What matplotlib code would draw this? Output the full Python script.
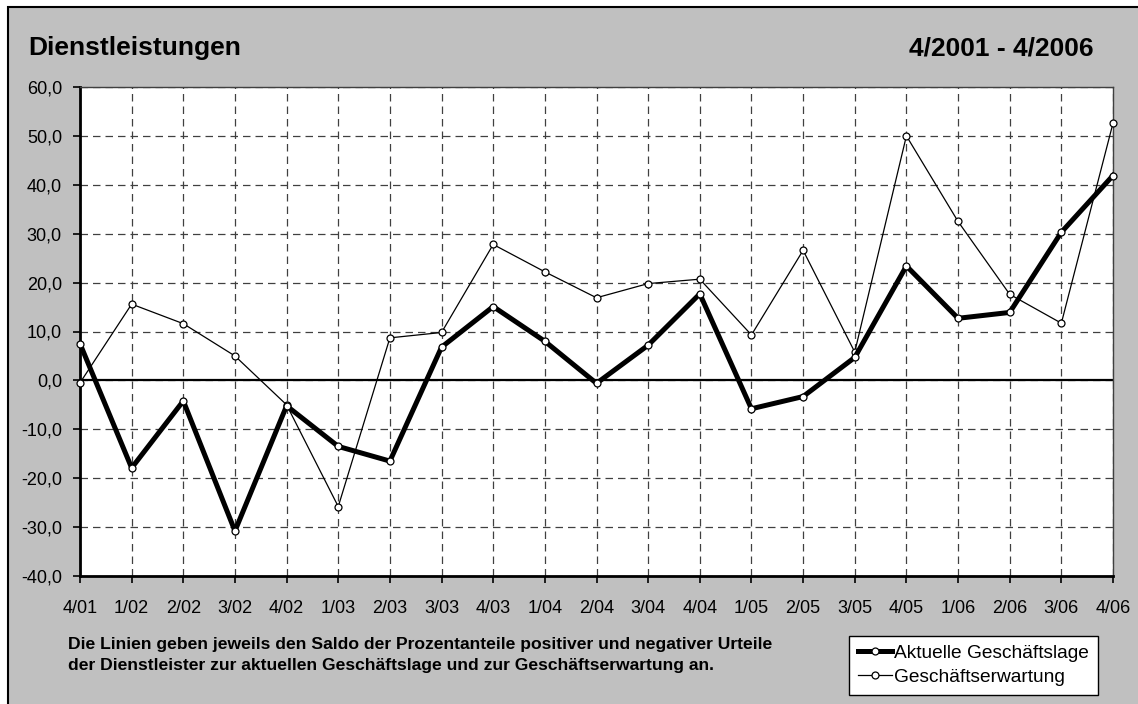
import numpy as np
import matplotlib
matplotlib.use('Agg')
import matplotlib.pyplot as plt
from matplotlib.patches import Rectangle

plt.rcParams['font.family'] = ['Liberation Sans', 'DejaVu Sans']

# Quartale
quartale = ['4/01', '1/02', '2/02', '3/02', '4/02', '1/03', '2/03', '3/03', '4/03',
            '1/04', '2/04', '3/04', '4/04', '1/05', '2/05', '3/05', '4/05',
            '1/06', '2/06', '3/06', '4/06']

# Saldo aktuelle Geschaeftslage
aktuelle_lage = [7.5, -17.9, -4.2, -30.8, -5.2, -13.5, -16.5, 6.8, 15.1,
                 8.0, -0.6, 7.2, 17.7, -5.8, -3.3, 4.7, 23.4,
                 12.7, 13.9, 30.3, 41.9]

# Saldo Geschaeftserwartung
erwartung = [-0.5, 15.6, 11.6, 5.0, -5.0, -25.8, 8.7, 9.8, 27.8,
             22.2, 16.9, 19.8, 20.7, 9.3, 26.6, 5.8, 50.0,
             32.5, 17.6, 11.7, 52.6]

y_ticks = [-40, -30, -20, -10, 0, 10, 20, 30, 40, 50, 60]

W, H = 1138, 704
fig = plt.figure(figsize=(W / 100, H / 100), dpi=100)
fig.patch.set_facecolor('white')

# grauer Rahmen (oben/links schwarz umrandet)
fig.patches.append(Rectangle((8 / W, -0.01), 1.1, 1.01 - 7 / H, transform=fig.transFigure,
                             facecolor='#c0c0c0', edgecolor='black', linewidth=1.5,
                             zorder=-10))

ax = fig.add_axes([80 / W, 1 - 576 / H, (1113 - 80) / W, (576 - 87) / H])
ax.set_facecolor('white')

x = np.arange(len(quartale))

ax.axhline(0, color='black', linewidth=1.6, zorder=2)

ax.plot(x, aktuelle_lage, color='black', linewidth=3.6, marker='o', markersize=5,
        markerfacecolor='white', markeredgecolor='black', markeredgewidth=0.9,
        label='Aktuelle Geschäftslage', zorder=4, clip_on=False)
ax.plot(x, erwartung, color='black', linewidth=0.9, marker='o', markersize=5,
        markerfacecolor='white', markeredgecolor='black', markeredgewidth=0.9,
        label='Geschäftserwartung', zorder=3, clip_on=False)

ax.set_xlim(0, len(quartale) - 1)
ax.set_ylim(-40, 60)
ax.set_xticks(x)
ax.set_xticklabels(quartale)
ax.set_yticks(y_ticks)
ax.yaxis.set_major_formatter(plt.FuncFormatter(lambda v, p: ('%.1f' % v).replace('.', ',')))

ax.grid(True, color='#404040', linestyle=(0, (6, 4)), linewidth=0.9, zorder=1)
ax.tick_params(axis='x', direction='out', length=5, width=1.2, pad=12, labelsize=13)
ax.tick_params(axis='y', direction='out', length=5, width=1.2, pad=8, labelsize=13)

for s in ['left', 'bottom']:
    ax.spines[s].set_linewidth(2)
for s in ['top', 'right']:
    ax.spines[s].set_linewidth(1)
    ax.spines[s].set_color('#404040')

# Titel
fig.text(28 / W, 1 - 48 / H, 'Dienstleistungen', fontsize=19, fontweight='bold',
         ha='left', va='center')
fig.text(1094 / W, 1 - 48 / H, '4/2001 - 4/2006', fontsize=19, fontweight='bold',
         ha='right', va='center')

# Erlaeuterung
fig.text(68 / W, 1 - 649 / H,
         'Die Linien geben jeweils den Saldo der Prozentanteile positiver und negativer Urteile',
         fontsize=12.6, fontweight='bold', ha='left', va='baseline')
fig.text(68 / W, 1 - 670 / H,
         'der Dienstleister zur aktuellen Geschäftslage und zur Geschäftserwartung an.',
         fontsize=12.6, fontweight='bold', ha='left', va='baseline')

leg = fig.legend(loc='upper left', bbox_to_anchor=(849 / W, 1 - 636 / H),
                 fontsize=13.8, frameon=True, fancybox=False, framealpha=1,
                 edgecolor='black', handlelength=1.8, handletextpad=0.1,
                 labelspacing=0.35, borderpad=0.45, borderaxespad=0)
leg.get_frame().set_linewidth(1)

fig.savefig('out.png', dpi=100, facecolor=fig.get_facecolor())
